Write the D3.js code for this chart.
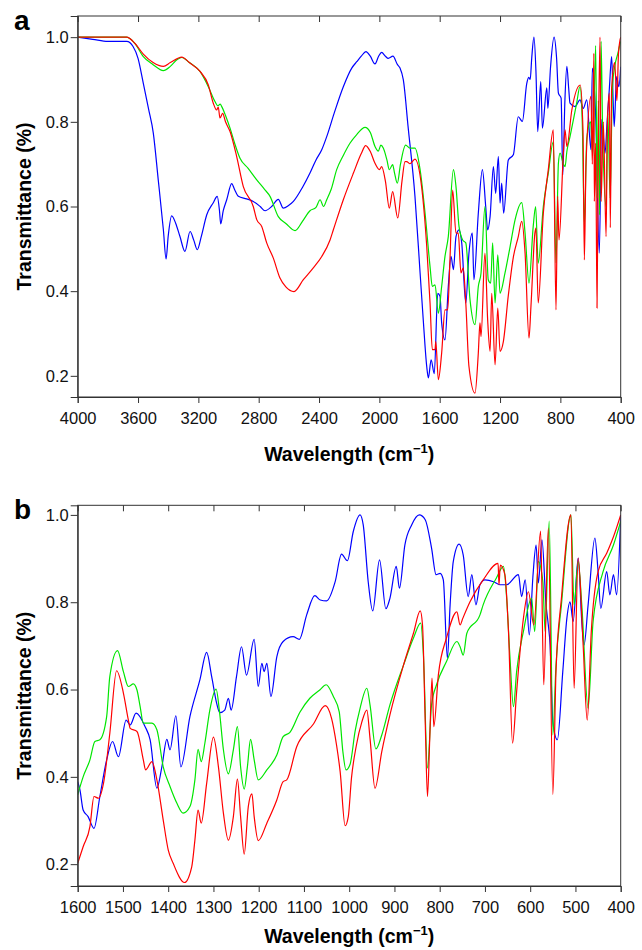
<!DOCTYPE html>
<html>
<head>
<meta charset="utf-8">
<script src="https://cdn.jsdelivr.net/npm/d3@7"></script>
<style>
  body { margin: 0; background: #fff; }
  svg { display: block; font-family: "Liberation Sans", Arial, Helvetica, sans-serif; }
</style>
</head>
<body>
<div id="chart"></div>
<script>
// tick labels
const xTicksA = [4000, 3600, 3200, 2800, 2400, 2000, 1600, 1200, 800, 400];
const xTicksB = [1600, 1500, 1400, 1300, 1200, 1100, 1000, 900, 800, 700, 600, 500, 400];
const yTicks = [0.2, 0.4, 0.6, 0.8, 1.0];

// panel a: [wavenumber, transmittance]
const aBlue = [[4000,1.0],[3900,0.995],[3800,0.99],[3700,0.99],[3675,0.99],[3633,0.978],[3600,0.95],[3565,0.891],[3530,0.83],[3499,0.774],[3466,0.663],[3432,0.545],[3414,0.476],[3400,0.53],[3377,0.578],[3350,0.56],[3322,0.529],[3289,0.494],[3255,0.541],[3230,0.52],[3207,0.498],[3180,0.53],[3145,0.58],[3101,0.609],[3075,0.624],[3060,0.59],[3052,0.559],[3035,0.59],[3012,0.616],[2979,0.654],[2960,0.64],[2935,0.624],[2880,0.618],[2836,0.612],[2790,0.6],[2758,0.59],[2714,0.6],[2670,0.617],[2637,0.596],[2600,0.603],[2570,0.612],[2510,0.645],[2460,0.679],[2420,0.71],[2382,0.734],[2349,0.765],[2300,0.82],[2239,0.883],[2183,0.927],[2150,0.942],[2120,0.955],[2089,0.966],[2060,0.955],[2029,0.937],[2005,0.955],[1985,0.964],[1960,0.955],[1941,0.95],[1910,0.955],[1880,0.935],[1863,0.927],[1841,0.899],[1810,0.79],[1764,0.624],[1730,0.443],[1709,0.332],[1686,0.222],[1675,0.195],[1657,0.238],[1636,0.205],[1613,0.395],[1598,0.388],[1587,0.325],[1565,0.285],[1543,0.411],[1525,0.482],[1509,0.451],[1492,0.529],[1472,0.545],[1454,0.514],[1427,0.372],[1406,0.49],[1384,0.537],[1373,0.427],[1344,0.584],[1317,0.687],[1295,0.6],[1282,0.545],[1266,0.576],[1244,0.694],[1229,0.631],[1211,0.718],[1200,0.608],[1189,0.655],[1176,0.584],[1145,0.71],[1112,0.722],[1079,0.812],[1052,0.801],[1023,0.89],[1010,0.905],[1000,0.9],[990,0.95],[975,1.0],[962,0.92],[950,0.777],[930,0.895],[919,0.785],[890,0.88],[883,0.832],[865,0.93],[842,1.0],[825,0.95],[813,0.868],[795,0.856],[784,0.675],[770,0.85],[757,0.931],[745,0.88],[736,0.844],[703,0.836],[670,0.852],[648,0.832],[625,0.852],[597,0.734],[588,0.927],[565,0.805],[542,0.49],[526,0.805],[504,0.726],[490,0.8],[475,0.88],[460,0.954],[450,0.85],[443,0.789],[427,0.907],[412,0.883],[400,0.93]];
const aGreen = [[4000,1.0],[3800,1.0],[3675,1.0],[3620,0.985],[3565,0.954],[3500,0.935],[3432,0.921],[3386,0.931],[3340,0.947],[3310,0.952],[3260,0.94],[3189,0.919],[3134,0.883],[3090,0.848],[3070,0.838],[3055,0.842],[3045,0.836],[3020,0.815],[2990,0.785],[2960,0.75],[2924,0.714],[2870,0.69],[2813,0.663],[2760,0.64],[2725,0.624],[2670,0.576],[2620,0.56],[2559,0.543],[2510,0.565],[2460,0.59],[2420,0.598],[2393,0.616],[2370,0.6],[2349,0.616],[2320,0.64],[2283,0.687],[2240,0.72],[2194,0.75],[2150,0.77],[2095,0.787],[2060,0.775],[2029,0.742],[2007,0.731],[1990,0.745],[1974,0.738],[1950,0.71],[1934,0.687],[1912,0.699],[1900,0.68],[1881,0.655],[1860,0.7],[1826,0.745],[1797,0.738],[1764,0.738],[1730,0.687],[1697,0.584],[1664,0.458],[1649,0.411],[1631,0.415],[1609,0.348],[1587,0.411],[1565,0.482],[1543,0.529],[1509,0.687],[1492,0.647],[1472,0.553],[1448,0.521],[1427,0.514],[1399,0.38],[1366,0.321],[1344,0.411],[1326,0.443],[1300,0.6],[1278,0.427],[1262,0.419],[1249,0.514],[1233,0.372],[1215,0.486],[1200,0.395],[1167,0.443],[1133,0.506],[1100,0.569],[1056,0.609],[1034,0.537],[1008,0.419],[980,0.553],[964,0.6],[947,0.466],[913,0.6],[880,0.679],[847,0.753],[829,0.467],[813,0.702],[802,0.726],[780,0.7],[769,0.694],[757,0.73],[736,0.765],[692,0.844],[670,0.883],[655,0.8],[641,0.557],[625,0.76],[600,0.8],[585,0.72],[566,0.98],[556,0.62],[548,0.85],[540,0.58],[530,0.99],[520,0.78],[497,0.6],[485,0.82],[470,0.62],[455,0.88],[440,0.93],[420,0.96],[400,0.99]];
const aRed = [[4000,1.0],[3800,1.0],[3675,1.0],[3620,0.985],[3565,0.96],[3500,0.94],[3432,0.931],[3386,0.94],[3310,0.953],[3260,0.94],[3189,0.919],[3134,0.887],[3101,0.844],[3079,0.828],[3068,0.835],[3057,0.809],[3039,0.82],[3020,0.8],[2990,0.777],[2946,0.718],[2902,0.647],[2836,0.6],[2813,0.569],[2780,0.553],[2747,0.514],[2703,0.478],[2659,0.431],[2620,0.41],[2566,0.399],[2504,0.427],[2438,0.455],[2382,0.482],[2327,0.521],[2305,0.545],[2239,0.616],[2172,0.679],[2120,0.725],[2091,0.744],[2060,0.73],[2029,0.702],[2000,0.687],[1985,0.694],[1960,0.66],[1934,0.596],[1912,0.635],[1878,0.573],[1850,0.66],[1830,0.706],[1819,0.706],[1797,0.701],[1764,0.712],[1720,0.647],[1686,0.506],[1664,0.372],[1649,0.262],[1631,0.262],[1626,0.281],[1609,0.191],[1587,0.254],[1565,0.356],[1547,0.356],[1532,0.474],[1514,0.639],[1492,0.537],[1477,0.537],[1459,0.443],[1444,0.455],[1427,0.372],[1406,0.222],[1366,0.159],[1344,0.254],[1333,0.325],[1326,0.293],[1300,0.49],[1282,0.332],[1266,0.258],[1255,0.395],[1233,0.226],[1215,0.36],[1200,0.258],[1178,0.281],[1145,0.39],[1112,0.48],[1079,0.529],[1056,0.565],[1034,0.49],[1008,0.289],[995,0.364],[969,0.537],[962,0.549],[947,0.372],[913,0.584],[880,0.687],[847,0.781],[829,0.356],[818,0.624],[809,0.521],[780,0.726],[769,0.781],[757,0.742],[724,0.828],[668,0.887],[650,0.78],[641,0.474],[630,0.7],[597,0.86],[588,0.7],[578,0.962],[575,0.612],[566,0.75],[557,0.36],[548,0.75],[537,1.0],[530,0.612],[515,0.8],[497,0.529],[488,0.8],[475,0.868],[469,0.55],[460,0.88],[440,0.94],[425,0.85],[415,0.96],[404,0.994],[400,1.0]];

// panel b
const bBlue = [[1600,0.389],[1595,0.37],[1588,0.324],[1577,0.309],[1564,0.282],[1551,0.355],[1536,0.439],[1523,0.481],[1510,0.446],[1493,0.53],[1484,0.519],[1471,0.546],[1451,0.515],[1440,0.485],[1425,0.374],[1414,0.423],[1403,0.486],[1396,0.462],[1383,0.54],[1372,0.423],[1352,0.538],[1330,0.622],[1315,0.685],[1304,0.63],[1293,0.569],[1286,0.547],[1275,0.553],[1267,0.58],[1261,0.553],[1249,0.63],[1238,0.698],[1227,0.633],[1210,0.715],[1201,0.607],[1193,0.66],[1188,0.641],[1182,0.66],[1173,0.584],[1160,0.675],[1146,0.71],[1124,0.721],[1110,0.715],[1094,0.771],[1076,0.815],[1064,0.805],[1050,0.803],[1031,0.847],[1017,0.91],[1004,0.895],[991,0.962],[976,1.0],[969,0.977],[958,0.847],[948,0.78],[933,0.897],[919,0.785],[910,0.809],[896,0.882],[889,0.832],[877,0.931],[862,0.977],[845,1.0],[832,0.989],[818,0.924],[808,0.863],[799,0.866],[792,0.851],[783,0.672],[777,0.794],[770,0.893],[757,0.933],[748,0.908],[737,0.813],[729,0.863],[720,0.794],[711,0.84],[700,0.851],[681,0.847],[667,0.84],[652,0.84],[626,0.863],[619,0.813],[611,0.851],[602,0.725],[594,0.859],[587,0.931],[582,0.844],[574,0.943],[565,0.794],[560,0.748],[556,0.702],[550,0.526],[540,0.485],[528,0.641],[519,0.763],[512,0.801],[505,0.756],[494,0.901],[486,0.756],[481,0.702],[472,0.794],[457,0.947],[450,0.87],[444,0.786],[431,0.87],[424,0.817],[416,0.863],[409,0.817],[400,1.0]];
const bGreen = [[1600,0.359],[1588,0.4],[1573,0.439],[1562,0.481],[1551,0.485],[1536,0.538],[1529,0.63],[1512,0.689],[1499,0.641],[1488,0.607],[1477,0.613],[1469,0.599],[1462,0.561],[1455,0.523],[1436,0.523],[1425,0.508],[1411,0.423],[1396,0.378],[1381,0.34],[1367,0.317],[1352,0.332],[1341,0.393],[1334,0.463],[1327,0.435],[1319,0.477],[1308,0.553],[1294,0.601],[1287,0.553],[1278,0.462],[1267,0.407],[1256,0.462],[1247,0.515],[1240,0.423],[1232,0.372],[1225,0.423],[1218,0.486],[1210,0.439],[1201,0.393],[1182,0.416],[1160,0.45],[1146,0.492],[1131,0.502],[1109,0.548],[1087,0.58],[1065,0.599],[1051,0.611],[1035,0.584],[1022,0.549],[1014,0.458],[1007,0.416],[998,0.429],[987,0.504],[976,0.557],[961,0.603],[954,0.565],[941,0.464],[928,0.496],[910,0.565],[880,0.656],[858,0.718],[842,0.752],[836,0.679],[827,0.42],[818,0.565],[807,0.611],[785,0.664],[762,0.71],[755,0.698],[748,0.679],[740,0.729],[711,0.771],[704,0.794],[675,0.855],[659,0.882],[652,0.809],[645,0.679],[637,0.561],[630,0.641],[615,0.733],[597,0.809],[590,0.733],[582,0.893],[572,0.847],[567,0.733],[558,0.986],[550,0.496],[543,0.656],[531,0.794],[510,1.0],[503,0.794],[494,0.893],[486,0.794],[472,0.557],[461,0.756],[439,0.87],[416,0.931],[400,0.985]];
const bRed = [[1600,0.202],[1588,0.24],[1573,0.286],[1564,0.355],[1554,0.351],[1543,0.385],[1529,0.5],[1514,0.643],[1499,0.592],[1488,0.53],[1484,0.511],[1469,0.504],[1455,0.439],[1450,0.416],[1436,0.435],[1425,0.393],[1411,0.301],[1400,0.233],[1389,0.202],[1364,0.158],[1348,0.194],[1341,0.255],[1334,0.324],[1327,0.294],[1315,0.385],[1300,0.491],[1289,0.423],[1278,0.317],[1267,0.255],[1256,0.309],[1247,0.395],[1240,0.309],[1232,0.223],[1223,0.332],[1215,0.361],[1210,0.309],[1201,0.254],[1182,0.294],[1160,0.347],[1146,0.389],[1138,0.393],[1116,0.469],[1079,0.521],[1053,0.563],[1039,0.534],[1028,0.473],[1020,0.412],[1009,0.288],[1002,0.309],[995,0.397],[984,0.473],[972,0.526],[961,0.553],[954,0.488],[943,0.374],[928,0.458],[910,0.542],[880,0.656],[858,0.729],[843,0.78],[838,0.748],[832,0.526],[827,0.355],[822,0.488],[817,0.626],[813,0.515],[803,0.633],[785,0.718],[762,0.778],[755,0.748],[749,0.763],[733,0.801],[704,0.851],[671,0.889],[669,0.84],[666,0.885],[656,0.863],[648,0.733],[639,0.477],[630,0.595],[615,0.763],[604,0.824],[592,0.748],[577,0.963],[570,0.611],[560,0.969],[550,0.36],[543,0.641],[531,0.809],[510,1.0],[503,0.603],[494,0.901],[483,0.702],[474,0.53],[465,0.733],[450,0.87],[431,0.912],[416,0.95],[400,1.0]];

const width = 642, height = 950;
const left = 77.7, right = 620.7;

const svg = d3.select("#chart")
    .append("svg")
    .attr("width", width)
    .attr("height", height);

function drawPanel(id, label, top, bottom, titleY, xDomain, yDomain, xTicks, series) {
    const x = d3.scaleLinear().domain(xDomain).range([left, right]);
    const y = d3.scaleLinear().domain(yDomain).range([bottom, top]);

    svg.append("clipPath").attr("id", "clip-" + id)
        .append("rect")
        .attr("x", left).attr("y", top)
        .attr("width", right - left).attr("height", bottom - top);

    const line = d3.line()
        .x(d => x(d[0]))
        .y(d => y(d[1]))
        .curve(d3.curveMonotoneX);

    const g = svg.append("g").attr("clip-path", `url(#clip-${id})`);
    series.forEach(s => {
        g.append("path")
            .datum(s.data)
            .attr("fill", "none")
            .attr("stroke", s.color)
            .attr("stroke-width", 1.2)
            .attr("stroke-linejoin", "round")
            .attr("d", line);
    });

    // frame
    svg.append("rect")
        .attr("x", left).attr("y", top)
        .attr("width", right - left).attr("height", bottom - top)
        .attr("fill", "none")
        .attr("stroke", "#333")
        .attr("stroke-width", 1);

    // bottom axis
    const xAxis = svg.append("g")
        .attr("transform", `translate(0,${bottom})`)
        .call(d3.axisBottom(x).tickValues(xTicks).tickFormat(d3.format("d")).tickSize(6).tickPadding(9));
    // top inward ticks
    const xTop = svg.append("g")
        .attr("transform", `translate(0,${top})`)
        .call(d3.axisBottom(x).tickValues(xTicks).tickFormat("").tickSize(6));
    xTop.select(".domain").remove();

    const yAxis = svg.append("g")
        .attr("transform", `translate(${left},0)`)
        .call(d3.axisLeft(y).tickValues(yTicks).tickFormat(d3.format(".1f")).tickSize(7).tickPadding(2));

    [xAxis, xTop, yAxis].forEach(a => {
        a.selectAll(".domain").attr("stroke", "#333");
        a.selectAll(".tick line").attr("stroke", "#333");
        a.selectAll("text")
            .attr("fill", "#111")
            .style("font-size", "16.5px")
            .style("font-family", '"Liberation Sans", Arial, sans-serif');
    });

    // axis titles
    const xt = svg.append("text")
        .attr("x", (left + right) / 2)
        .attr("y", titleY)
        .attr("text-anchor", "middle")
        .style("font-weight", "bold")
        .style("font-size", "19.5px");
    xt.append("tspan").text("Wavelength (cm");
    xt.append("tspan").attr("dy", -8).style("font-size", "13px").text("\u22121");
    xt.append("tspan").attr("dy", 8).text(")");

    svg.append("text")
        .attr("transform", `translate(31,${(top + bottom) / 2}) rotate(-90)`)
        .attr("text-anchor", "middle")
        .style("font-weight", "bold")
        .style("font-size", "19.5px")
        .text("Transmittance (%)");

    svg.append("text")
        .attr("x", 14)
        .attr("y", top + 14)
        .style("font-weight", "bold")
        .style("font-size", "28px")
        .text(label);
}

drawPanel("a", "a", 16, 397, 461, [4000, 400], [0.15, 1.05], xTicksA, [
    { data: aBlue, color: "#0000ff" },
    { data: aGreen, color: "#00e600" },
    { data: aRed, color: "#ff0000" }
]);

drawPanel("b", "b", 505.3, 886, 943, [1600, 400], [0.15, 1.022], xTicksB, [
    { data: bBlue, color: "#0000ff" },
    { data: bGreen, color: "#00e600" },
    { data: bRed, color: "#ff0000" }
]);
</script>
</body>
</html>
